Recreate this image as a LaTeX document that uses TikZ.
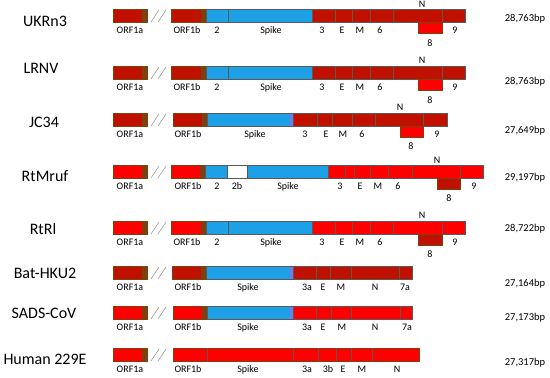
\documentclass[tikz,border=0pt]{standalone}
\usepackage{fontspec}
\setmainfont{Carlito}

\definecolor{darkred}{RGB}{192,16,0}
\definecolor{brightred}{RGB}{255,0,0}
\definecolor{spikeblue}{RGB}{30,160,230}
\definecolor{orfbrown}{RGB}{125,65,15}
\definecolor{endpurple}{RGB}{120,120,230}

\begin{document}
\begin{tikzpicture}[
    x=1pt, y=-1pt,
    seg/.style={draw=black!65, line width=0.6pt},
    orf/.style={draw=orfbrown, line width=1pt, path picture={\fill[orfbrown] ([xshift=-5pt]path picture bounding box.north east) rectangle (path picture bounding box.south east);}},
    box8/.style={draw=orfbrown, line width=1pt},
    spk/.style={seg, fill=spikeblue},
    spkend/.style={spk, path picture={\fill[endpurple] ([xshift=-3pt]path picture bounding box.north east) rectangle (path picture bounding box.south east);}},
    slash/.style={draw=black!45, line width=0.5pt},
    strain/.style={font=\fontsize{16}{16}\selectfont, inner sep=0pt, text height=10.3pt, text depth=0pt},
    lab/.style={font=\fontsize{10}{10}\selectfont, inner sep=0pt, text height=6.5pt, text depth=0pt},
    bp/.style={font=\fontsize{10.5}{10.5}\selectfont, inner sep=0pt, text height=6.8pt, text depth=0pt}
]
\useasboundingbox (0,0) rectangle (550,378);

% Breaks between ORF1a and ORF1b
\foreach \t in {9,66,113,165,221,266,306,348} {
    \draw[slash] (151,\t+13) -- (159,\t+1);
    \draw[slash] (158,\t+13) -- (166,\t+1);
}

% UKRn3
\node[strain] (ukrn3) at (45,21) {UKRn3};
\draw[orf, fill=darkred] (113,9) rectangle (147,22);
\draw[orf, fill=darkred] (171,9) rectangle (206,22);
\draw[spk] (206,9) rectangle (312,22);
\draw[seg] (228,9) -- (228,22);
\draw[seg, fill=darkred] (312,9) rectangle (465,22);
\foreach \x in {335,352,370,393,442} \draw[seg] (\x,9) -- (\x,22);
\draw[box8, fill=brightred] (418,22) rectangle (442,33);
\foreach \x/\t in {130/ORF1a,187/ORF1b,217/2,271/Spike,322/3,342/E,360/M,380/6,455/9}
    \node[lab] (ukrn3-\t) at (\x,30) {\t};
\node[lab] (ukrn3-8) at (430,43) {8};
\node[lab] (ukrn3-N) at (422,4) {N};
\node[bp] (ukrn3-bp) at (525,18) {28,763bp};

% LRNV
\node[strain] (lrnv) at (41,68) {LRNV};
\draw[orf, fill=darkred] (113,66) rectangle (147,79);
\draw[orf, fill=darkred] (171,66) rectangle (206,79);
\draw[spk] (206,66) rectangle (312,79);
\draw[seg] (228,66) -- (228,79);
\draw[seg, fill=darkred] (312,66) rectangle (465,79);
\foreach \x in {335,352,370,393,442} \draw[seg] (\x,66) -- (\x,79);
\draw[box8, fill=brightred] (418,79) rectangle (442,90);
\foreach \x/\t in {130/ORF1a,187/ORF1b,217/2,271/Spike,322/3,342/E,360/M,380/6,455/9}
    \node[lab] (lrnv-\t) at (\x,87) {\t};
\node[lab] (lrnv-8) at (430,100) {8};
\node[lab] (lrnv-N) at (422,60) {N};
\node[bp] (lrnv-bp) at (525,81) {28,763bp};

% JC34
\node[strain] (jc34) at (44,122) {JC34};
\draw[orf, fill=darkred] (113,113) rectangle (147,126);
\draw[orf, fill=darkred] (173,113) rectangle (207,126);
\draw[spkend] (207,113) rectangle (293,126);
\draw[seg, fill=darkred] (293,113) rectangle (447,126);
\foreach \x in {317,332,352,375,423} \draw[seg] (\x,113) -- (\x,126);
\draw[box8, fill=brightred] (400,126) rectangle (423,137);
\foreach \x/\t in {130/ORF1a,188/ORF1b,255/Spike,305/3,326/E,343/M,362/6,437/9}
    \node[lab] (jc34-\t) at (\x,134) {\t};
\node[lab] (jc34-8) at (411,146) {8};
\node[lab] (jc34-N) at (400,107) {N};
\node[bp] (jc34-bp) at (525,130) {27,649bp};

% RtMruf
\node[strain] (rtmruf) at (45,176) {RtMruf};
\draw[orf, fill=brightred] (113,165) rectangle (147,178);
\draw[orf, fill=brightred] (171,165) rectangle (205,178);
\draw[spk] (205,165) rectangle (227,178);
\draw[seg, fill=white] (227,165) rectangle (247,178);
\draw[spk] (247,165) rectangle (328,178);
\draw[seg, fill=brightred] (328,165) rectangle (483,178);
\foreach \x in {345,354,370,388,412,460} \draw[seg] (\x,165) -- (\x,178);
\draw[box8, fill=darkred] (437,178) rectangle (460,189);
\foreach \x/\t in {130/ORF1a,188/ORF1b,217/2,237/2b,288/Spike,340/3,360/E,378/M,398/6,474/9}
    \node[lab] (rtmruf-\t) at (\x,186) {\t};
\node[lab] (rtmruf-8) at (449,198) {8};
\node[lab] (rtmruf-N) at (437,160) {N};
\node[bp] (rtmruf-bp) at (525,177) {29,197bp};

% RtRl
\node[strain] (rtrl) at (43,229) {RtRl};
\draw[orf, fill=brightred] (113,221) rectangle (147,234);
\draw[orf, fill=brightred] (171,221) rectangle (206,234);
\draw[spk] (206,221) rectangle (312,234);
\draw[seg] (228,221) -- (228,234);
\draw[seg, fill=brightred] (312,221) rectangle (465,234);
\foreach \x in {335,352,370,393,442} \draw[seg] (\x,221) -- (\x,234);
\draw[box8, fill=darkred] (418,234) rectangle (442,245);
\foreach \x/\t in {130/ORF1a,187/ORF1b,217/2,271/Spike,322/3,342/E,360/M,380/6,455/9}
    \node[lab] (rtrl-\t) at (\x,242) {\t};
\node[lab] (rtrl-8) at (430,254) {8};
\node[lab] (rtrl-N) at (422,215) {N};
\node[bp] (rtrl-bp) at (525,228) {28,722bp};

% Bat-HKU2
\node[strain] (hku2) at (45,273) {Bat-HKU2};
\draw[orf, fill=darkred] (113,266) rectangle (147,279);
\draw[orf, fill=darkred] (172,266) rectangle (206,279);
\draw[spkend] (206,266) rectangle (293,279);
\draw[seg, fill=darkred] (293,266) rectangle (412,279);
\foreach \x in {316,330,351,399} \draw[seg] (\x,266) -- (\x,279);
\foreach \x/\t in {130/ORF1a,188/ORF1b,248/Spike,307/3a,323/E,341/M,375/N,405/7a}
    \node[lab] (hku2-\t) at (\x,287) {\t};
\node[bp] (hku2-bp) at (525,283) {27,164bp};

% SADS-CoV
\node[strain] (sads) at (44,313) {SADS-CoV};
\draw[orf, fill=brightred] (113,306) rectangle (147,319);
\draw[orf, fill=brightred] (173,306) rectangle (207,319);
\draw[spkend] (207,306) rectangle (293,319);
\draw[seg, fill=brightred] (293,306) rectangle (412,319);
\foreach \x in {316,331,351,400} \draw[seg] (\x,306) -- (\x,319);
\foreach \x/\t in {130/ORF1a,188/ORF1b,248/Spike,307/3a,323/E,342/M,375/N,407/7a}
    \node[lab] (sads-\t) at (\x,327) {\t};
\node[bp] (sads-bp) at (525,317) {27,173bp};

% Human 229E
\node[strain] (hum) at (45,359) {Human 229E};
\draw[orf, fill=brightred] (113,348) rectangle (147,361);
\draw[box8, fill=brightred] (173,348) rectangle (419,361);
\foreach \x in {207,293,318,336,351,372} \draw[seg] (\x,348) -- (\x,361);
\foreach \x/\t in {130/ORF1a,188/ORF1b,248/Spike,307/3a,328/3b,343/E,362/M,397/N}
    \node[lab] (hum-\t) at (\x,369) {\t};
\node[bp] (hum-bp) at (525,362) {27,317bp};

\end{tikzpicture}
\end{document}
